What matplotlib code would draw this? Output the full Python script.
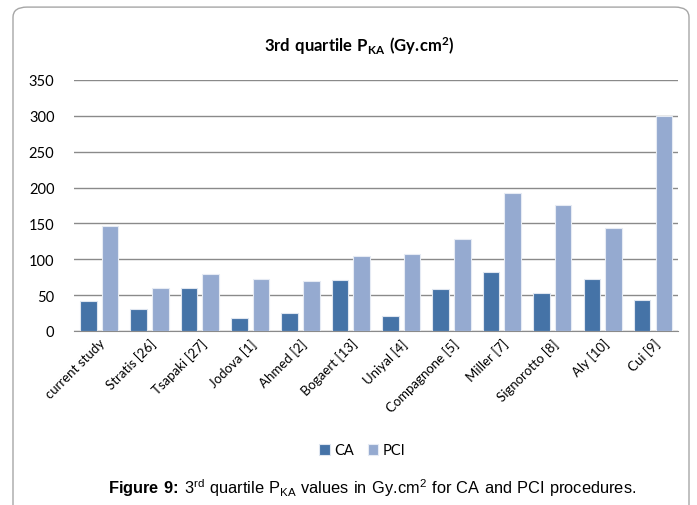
import matplotlib.pyplot as plt
import numpy as np
from matplotlib.patches import FancyBboxPatch

studies = ["current study", "Stratis [26]", "Tsapaki [27]", "Jodova [1]", "Ahmed [2]",
           "Bogaert [13]", "Uniyal [4]", "Compagnone [5]", "Miller [7]",
           "Signorotto [8]", "Aly [10]", "Cui [9]"]
ca = [42, 30, 60, 18, 25, 71, 21, 58, 82, 53, 72, 43]
pci = [146, 60, 80, 72, 69, 105, 107, 128, 193, 176, 143, 300]
yticks = [0, 50, 100, 150, 200, 250, 300, 350]

plt.rcParams['font.family'] = ['Lato', 'DejaVu Sans']
plt.rcParams['mathtext.fontset'] = 'custom'
plt.rcParams['mathtext.bf'] = 'Lato:bold'
plt.rcParams['mathtext.rm'] = 'Liberation Sans'
plt.rcParams['mathtext.sf'] = 'Liberation Sans:bold'

fig = plt.figure(figsize=(6.97, 5.06), dpi=100)
ax = fig.add_axes([0.106, 0.344, 0.867, 0.496])

x = np.arange(len(studies))
w = 0.33
ax.bar(x - 0.215, ca, w, color='#4573a7', edgecolor='#dfe6f0', linewidth=0.8, label='CA', zorder=3)
ax.bar(x + 0.215, pci, w, color='#95aad0', edgecolor='#e6ebf4', linewidth=0.8, label='PCI', zorder=3)

ax.set_xlim(-0.5, len(studies) - 0.5)
ax.set_ylim(0, 350)
ax.set_yticks(yticks)
ax.tick_params(axis='y', length=0, pad=14, labelsize=10.5)
ax.tick_params(axis='x', length=0, pad=4, labelsize=9.5)
ax.set_xticks(x)
ax.set_xticklabels(studies, rotation=45, ha='right', rotation_mode='anchor')
ax.grid(axis='y', color='#8a8a8a', linewidth=1, zorder=0)
for s in ['left', 'right', 'top']:
    ax.spines[s].set_visible(False)
ax.spines['bottom'].set_color('#8a8a8a')

# \! cancels the extra space mathtext puts after '.' and around ':'
fig.text(0.516, 0.908, r'$\mathbf{3rd\ quartile\ P_{KA}\ (Gy.\!cm^{2})}$', ha='center', va='center', fontsize=12)

fig.legend(loc='center', bbox_to_anchor=(0.52, 0.108), ncol=2, frameon=False, fontsize=10.5,
           handlelength=0.75, handleheight=0.75, handletextpad=0.3, columnspacing=0.9)

fig.text(0.534, 0.036, r'$\mathsf{Figure\ 9\!:\!}\ \mathrm{3^{rd}\ quartile\ P_{KA}\ values\ in\ Gy.\!cm^{2}\ for\ CA\ and\ PCI\ procedures.}$',
         ha='center', va='center', fontsize=11.8)

box = FancyBboxPatch((13 / 697, -0.1), 676 / 697, 1.084, boxstyle='round,pad=0,rounding_size=0.02',
                     transform=fig.transFigure, facecolor='none', edgecolor='#a6a6a6', linewidth=1)
fig.patches.append(box)

fig.savefig('out.png', dpi=100)
